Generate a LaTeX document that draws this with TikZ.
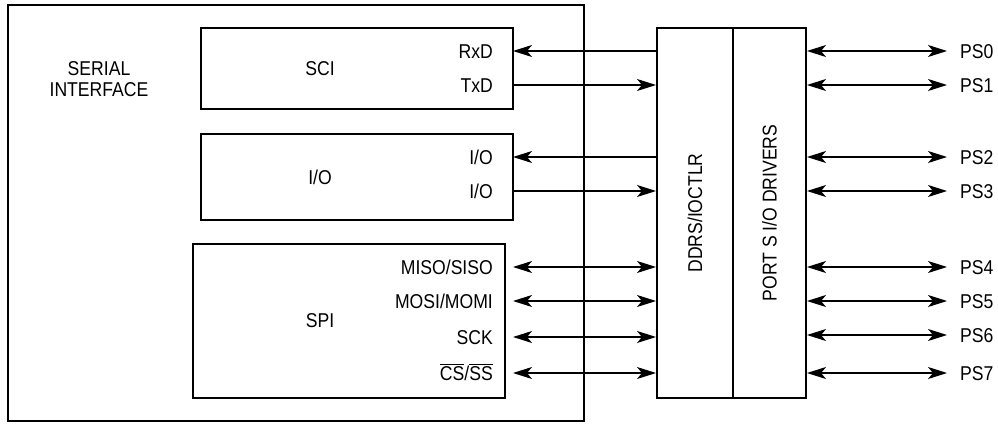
\documentclass[tikz,border=0pt]{standalone}
\usepackage{fontspec}
\setmainfont{Liberation Sans}[FakeStretch=0.88]
\usetikzlibrary{arrows.meta}
\newcommand{\portpin}[2]{
\node[pinlabel] (ps#1) at (960, #2) {PS#1};
\draw[sig, <->] (ps#1 -| port.east) -- ([xshift=-13pt]ps#1.west);
}

\begin{document}
\begin{tikzpicture}[x=1pt, y=-1pt, font=\fontsize{20}{21}\selectfont,
  blk/.style={draw, line width=2pt, anchor=north west, inner sep=0pt},
  sig/.style={line width=1.3pt, >={Stealth[length=19pt, width=12pt, inset=5pt]}},
  siglabel/.style={anchor=east, inner sep=0pt, text height=14pt, text depth=0pt},
  pinlabel/.style={anchor=west, inner sep=0pt, text height=14pt, text depth=0pt}]
\useasboundingbox (0, 0) rectangle (998, 423);

% serial interface and its blocks
\node[blk, minimum width=576pt, minimum height=416pt] (serial) at (7, 4) {};
\node[align=center] (seriallabel) at (99, 79) {SERIAL\\INTERFACE};
\node[blk, minimum width=312pt, minimum height=81pt] (sci) at (200, 27) {};
\node[blk, minimum width=312pt, minimum height=86pt] (io) at (200, 133) {};
\node[blk, minimum width=312pt, minimum height=154pt] (spi) at (192, 243) {};
\node (scilabel) at (320, 69) {SCI};
\node (iolabel) at (320, 177) {I/O};
\node (spilabel) at (320, 321) {SPI};

% port S
\node[blk, minimum width=76pt, minimum height=370pt] (ddrs) at (656, 27) {};
\node[blk, minimum width=73pt, minimum height=370pt] (port) at (732, 27) {};
\node[rotate=90] (ddrslabel) at (ddrs.center) {DDRS/IOCTLR};
\node[rotate=90] (portlabel) at (port.center) {PORT S I/O DRIVERS};

% signals
\node[siglabel] (rxd) at (493, 51) {RxD};
\node[siglabel] (txd) at (493, 85) {TxD};
\node[siglabel] (ioa) at (493, 157) {I/O};
\node[siglabel] (iob) at (493, 191) {I/O};
\node[siglabel] (miso) at (493, 267) {MISO/SISO};
\node[siglabel] (mosi) at (493, 301) {MOSI/MOMI};
\node[siglabel] (sck) at (493, 337) {SCK};
\node[siglabel] (cs) at (493, 373) {$\overline{\mbox{CS}}$/$\overline{\mbox{SS}}$};

\draw[sig, <-] ([xshift=20pt]rxd.east) -- (rxd -| ddrs.west);
\draw[sig, ->] ([xshift=20pt]txd.east) -- (txd -| ddrs.west);
\draw[sig, <-] ([xshift=20pt]ioa.east) -- (ioa -| ddrs.west);
\draw[sig, ->] ([xshift=20pt]iob.east) -- (iob -| ddrs.west);
\draw[sig, <->] ([xshift=20pt]miso.east) -- (miso -| ddrs.west);
\draw[sig, <->] ([xshift=20pt]mosi.east) -- (mosi -| ddrs.west);
\draw[sig, <->] ([xshift=20pt]sck.east) -- (sck -| ddrs.west);
\draw[sig, <->] ([xshift=20pt]cs.east) -- (cs -| ddrs.west);

\portpin{0}{51}
\portpin{1}{85}
\portpin{2}{157}
\portpin{3}{191}
\portpin{4}{267}
\portpin{5}{301}
\portpin{6}{335}
\portpin{7}{373}
\end{tikzpicture}
\end{document}
